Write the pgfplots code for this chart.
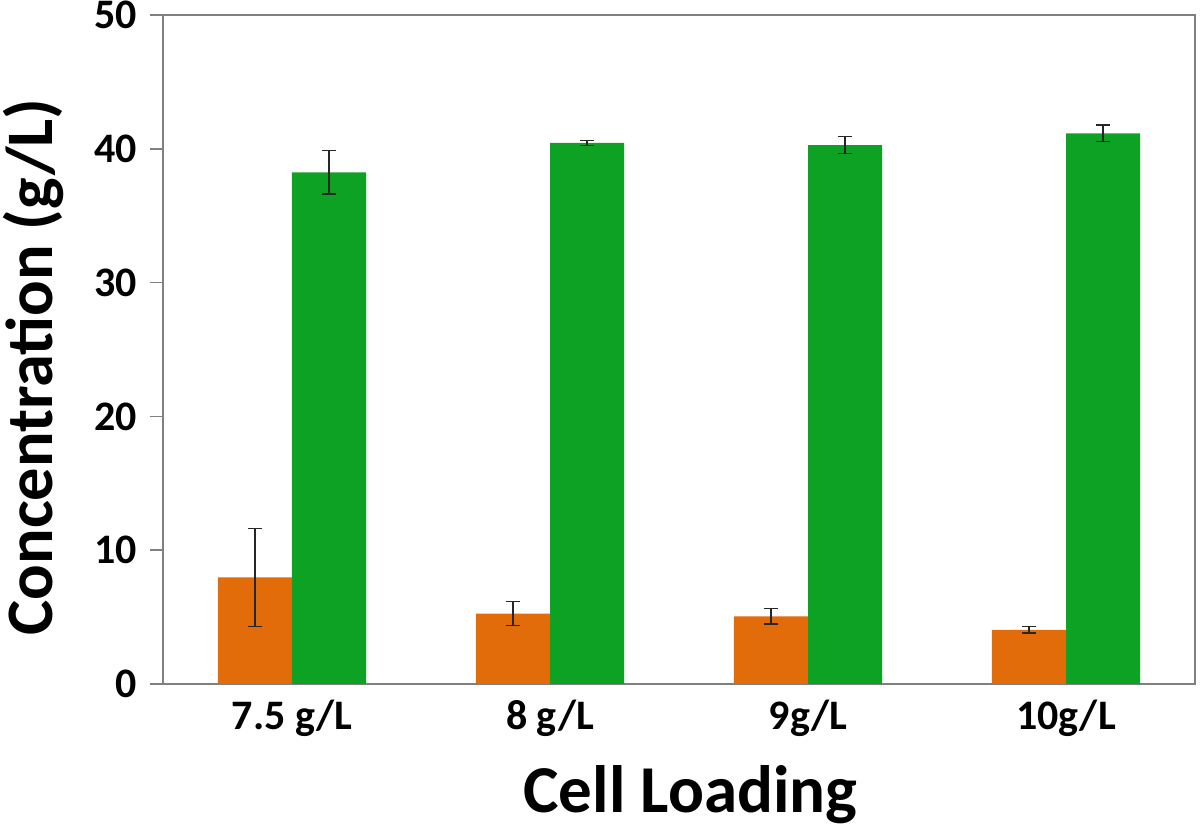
\documentclass[border=0pt]{standalone}
\usepackage{pgfplots}
\pgfplotsset{compat=1.18}
\usepackage{fontspec}
\setmainfont{Carlito}
\definecolor{barorange}{RGB}{227,108,10}
\definecolor{bargreen}{RGB}{13,162,36}
\definecolor{axgray}{RGB}{128,128,128}
\begin{document}
\begin{tikzpicture}
\begin{axis}[
  scale only axis,
  width=516pt, height=334.5pt,
  xmin=-0.5, xmax=3.5,
  ymin=0, ymax=50,
  xtick={0,1,2,3},
  xticklabels={7.5 g/L, 8 g/L, 9g/L, 10g/L},
  ytick={0,10,20,30,40,50},
  ytick pos=left,
  tick align=outside,
  major tick length=6.5pt,
  x tick style={draw=none},
  y tick style={axgray, line width=0.8pt},
  axis line style={axgray, line width=1pt},
  font=\bfseries,
  tick label style={font=\fontsize{21}{25}\selectfont\bfseries},
  /pgf/number format/assume math mode=true,
  yticklabel style={xshift=-3pt},
  xticklabel style={yshift=2pt},
  xlabel={Cell Loading},
  ylabel={Concentration (g/L)},
  xlabel style={font=\fontsize{33.5}{40}\selectfont\bfseries, at={(axis description cs:0.511,-0.166)}, anchor=center},
  ylabel style={font=\fontsize{33.2}{40}\selectfont\bfseries, at={(axis description cs:-0.1255,0.474)}, anchor=center},
  ybar, bar width=0.287,
  enlarge x limits=false,
  error bars/error bar style={black!85, line width=0.6pt},
  error bars/error mark options={rotate=90, mark size=3.5pt, line width=0.6pt, black!85},
]
\addplot[fill=barorange, draw=none, bar shift=-0.1435,
  error bars/.cd, y dir=both, y explicit]
  coordinates {(0,7.97) +- (0,3.66) (1,5.26) +- (0,0.88) (2,5.05) +- (0,0.57) (3,4.04) +- (0,0.23)};
\addplot[fill=bargreen, draw=none, bar shift=0.1435,
  error bars/.cd, y dir=both, y explicit]
  coordinates {(0,38.24) +- (0,1.62) (1,40.44) +- (0,0.17) (2,40.28) +- (0,0.62) (3,41.16) +- (0,0.62)};
\end{axis}
\pgfresetboundingbox
\path (current axis.south west) ++(-81.5pt,-71.5pt) coordinate (bbA);
\path (current axis.north east) ++(2.5pt,7.5pt) coordinate (bbB);
\useasboundingbox (bbA) rectangle (bbB);
\end{tikzpicture}
\end{document}
